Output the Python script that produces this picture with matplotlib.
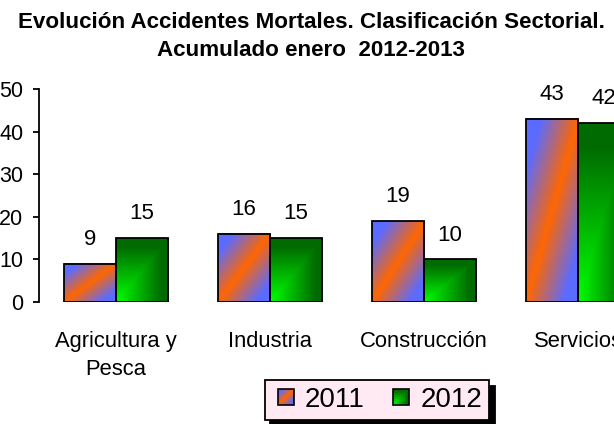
import numpy as np
import matplotlib.pyplot as plt
from matplotlib.legend_handler import HandlerBase
from matplotlib.patches import Rectangle

plt.rcParams['font.family'] = ['Liberation Sans', 'DejaVu Sans']

# data
categories = ['Agricultura y\nPesca', 'Industria', 'Construcción', 'Servicios']
years = ['2011', '2012']
values_2011 = [9, 16, 19, 43]
values_2012 = [15, 15, 10, 42]
yticks = [0, 10, 20, 30, 40, 50]
title = 'Evolución Accidentes Mortales. Clasificación Sectorial.\nAcumulado enero  2012-2013'

blue = np.array([0.36, 0.42, 1.0])
orange = np.array([1.0, 0.4, 0.0])
dark_green = np.array([0.0, 0.42, 0.0])
light_green = np.array([0.0, 1.0, 0.0])


def grad_2011(u, v):
    # diagonal: orange along bottom-left -> top-right, blue in the other corners
    t = np.clip(np.abs(u - v) * 1.4, 0, 1)
    return orange * (1 - t)[..., None] + blue * t[..., None]


def grad_2012(u, v):
    # bright green from the bottom-left corner
    t = np.clip(np.maximum(u, v) * 1.15, 0, 1)
    return light_green * (1 - t)[..., None] + dark_green * t[..., None]


def gradient_image(func, n=80):
    u, v = np.meshgrid(np.linspace(0, 1, n), np.linspace(0, 1, n))
    return func(u, v)


class GradHandler(HandlerBase):
    def __init__(self, func):
        super().__init__()
        self.func = func

    def create_artists(self, legend, orig_handle, xdescent, ydescent,
                       width, height, fontsize, trans):
        n = 8
        side = height
        x0 = -xdescent + (width - side) / 2
        y0 = -ydescent
        arts = []
        for i in range(n):
            for j in range(n):
                c = self.func(np.array([(i + 0.5) / n]), np.array([(j + 0.5) / n]))[0]
                arts.append(Rectangle((x0 + i * side / n, y0 + j * side / n),
                                      side / n * 1.05, side / n * 1.05,
                                      facecolor=c, edgecolor='none',
                                      antialiased=False, transform=trans))
        arts.append(Rectangle((x0, y0), side, side, facecolor='none',
                              edgecolor='black', lw=1.2, transform=trans))
        return arts


fig = plt.figure(figsize=(6.14, 4.24), dpi=100)
ax = fig.add_axes([39 / 614, 122 / 424, 616 / 614, 213 / 424])

x = np.arange(len(categories))
width = 0.338
bars1 = ax.bar(x - width / 2, values_2011, width, facecolor='none',
               edgecolor='black', lw=1.3, zorder=3)
bars2 = ax.bar(x + width / 2, values_2012, width, facecolor='none',
               edgecolor='black', lw=1.3, zorder=3)

# gradient fills inside each bar
for bars, func in [(bars1, grad_2011), (bars2, grad_2012)]:
    img = gradient_image(func)
    for b in bars:
        ax.imshow(img, extent=(b.get_x(), b.get_x() + b.get_width(), 0, b.get_height()),
                  origin='lower', aspect='auto', zorder=2, interpolation='bilinear')

for bars in (bars1, bars2):
    for b in bars:
        ax.annotate(str(int(b.get_height())),
                    (b.get_x() + b.get_width() / 2, b.get_height()),
                    xytext=(0, 13.5), textcoords='offset points',
                    ha='center', va='baseline', fontsize=16)

ax.set_xlim(-0.5, len(categories) - 0.5)
ax.set_ylim(0, 50)
ax.set_yticks(yticks)
ax.set_xticks(x, categories)
ax.tick_params(axis='y', length=4.3, width=1.3, pad=7, labelsize=15.5)
ax.tick_params(axis='x', length=0, pad=21, labelsize=15.8)
for lbl in ax.get_xticklabels():
    lbl.set_linespacing(1.45)
for s in ['top', 'right', 'bottom']:
    ax.spines[s].set_visible(False)
ax.spines['left'].set_linewidth(1.3)

fig.text(0.507, 0.971, title, ha='center', va='top', fontsize=16.1,
         fontweight='bold', linespacing=1.42)

leg = fig.legend([bars1, bars2], years, loc='center',
                 bbox_to_anchor=(377 / 614, 24 / 424), ncol=2, fontsize=20,
                 handler_map={bars1: GradHandler(grad_2011),
                              bars2: GradHandler(grad_2012)},
                 handleheight=0.5, handlelength=1.0, handletextpad=0.2,
                 columnspacing=0.8, borderpad=0.25, fancybox=False,
                 framealpha=1, facecolor='#FFEAF3', edgecolor='black',
                 shadow={'color': 'black', 'alpha': 1, 'ox': 4, 'oy': -4})
leg.get_frame().set_linewidth(1.3)

fig.savefig('out.png', dpi=100)
